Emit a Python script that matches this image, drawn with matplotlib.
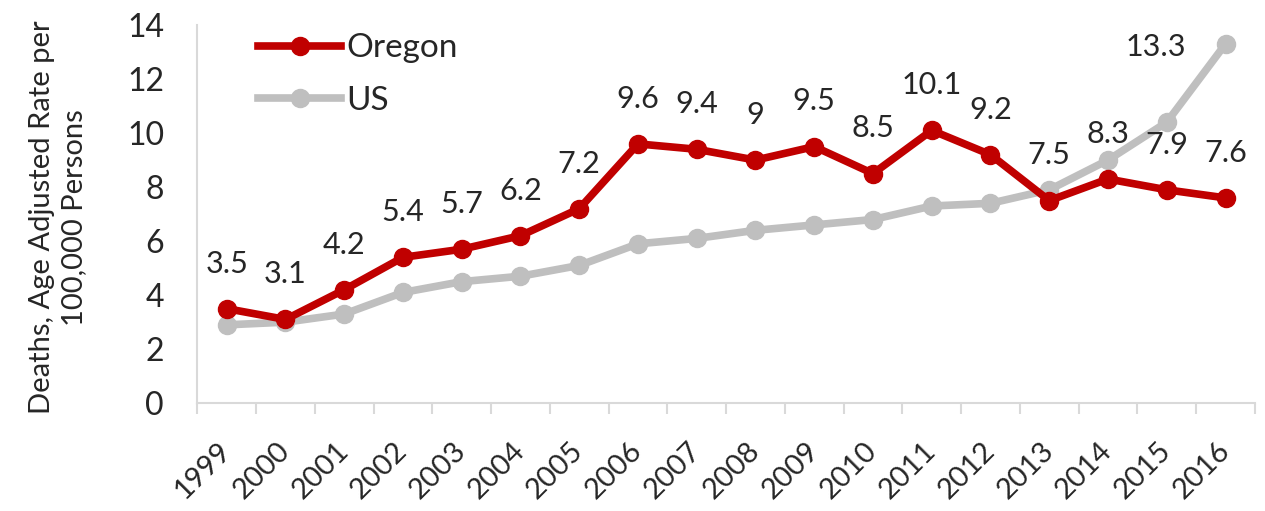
import matplotlib.pyplot as plt
import numpy as np

# Dados
anos = [str(a) for a in range(1999, 2017)]
oregon = [3.5, 3.1, 4.2, 5.4, 5.7, 6.2, 7.2, 9.6, 9.4, 9.0, 9.5, 8.5, 10.1, 9.2, 7.5, 8.3, 7.9, 7.6]
oregon_rotulos = ["3.5", "3.1", "4.2", "5.4", "5.7", "6.2", "7.2", "9.6", "9.4", "9", "9.5", "8.5",
                  "10.1", "9.2", "7.5", "8.3", "7.9", "7.6"]
us = [2.9, 3.0, 3.3, 4.1, 4.5, 4.7, 5.1, 5.9, 6.1, 6.4, 6.6, 6.8, 7.3, 7.4, 7.9, 9.0, 10.4, 13.3]

vermelho = "#c00000"
cinza = "#bfbfbf"
texto = "#262626"
plt.rcParams['font.family'] = ['Lato', 'DejaVu Sans']

fig = plt.figure(figsize=(12.65, 5.11), dpi=100)
ax = fig.add_axes([0.156, 0.211, 0.836, 0.740])

x = np.arange(len(anos))
ax.plot(x, oregon, color=vermelho, lw=5.5, marker='o', ms=13, label="Oregon", zorder=3)
ax.plot(x, us, color=cinza, lw=5.5, marker='o', ms=13, label="US", zorder=2)

# Rótulos dos dados
for xi, yi, txt in zip(x, oregon, oregon_rotulos):
    ax.annotate(txt, (xi, yi), xytext=(0, 26), textcoords='offset points',
                ha='center', va='baseline', fontsize=22, color=texto)
ax.annotate("13.3", (x[-1], us[-1]), xytext=(-50, -9), textcoords='offset points',
            ha='center', va='baseline', fontsize=22, color=texto)

ax.set_xlim(-0.5, len(anos) - 0.5)
ax.set_ylim(0, 14)
ax.set_yticks(range(0, 15, 2))
ax.set_xticks(x)
ax.set_xticklabels(anos, rotation=45, ha='right', va='center', rotation_mode='anchor')
ax.set_xticks(np.arange(-0.5, len(anos), 1), minor=True)
ax.tick_params(axis='x', which='major', length=0, labelsize=21, pad=31, colors=texto)
ax.tick_params(axis='x', which='minor', length=8, color='#d9d9d9', width=1.5)
ax.tick_params(axis='y', length=0, labelsize=23, pad=24, colors=texto)

for s in ['top', 'right']:
    ax.spines[s].set_visible(False)
for s in ['left', 'bottom']:
    ax.spines[s].set_color('#d9d9d9')
    ax.spines[s].set_linewidth(1.5)

fig.text(58 / 1265, 0.575, "Deaths, Age Adjusted Rate per\n100,000 Persons", fontsize=21,
         color=texto, rotation=90, ha='center', va='center', multialignment='center',
         linespacing=1.3)

ax.legend(loc='upper left', bbox_to_anchor=(258 / 1265, 0.935), bbox_transform=fig.transFigure,
          frameon=False, fontsize=24, borderpad=0, borderaxespad=0,
          handlelength=2.5, handletextpad=0.15, labelspacing=0.68, labelcolor=texto)

fig.savefig("out.png", dpi=100)
